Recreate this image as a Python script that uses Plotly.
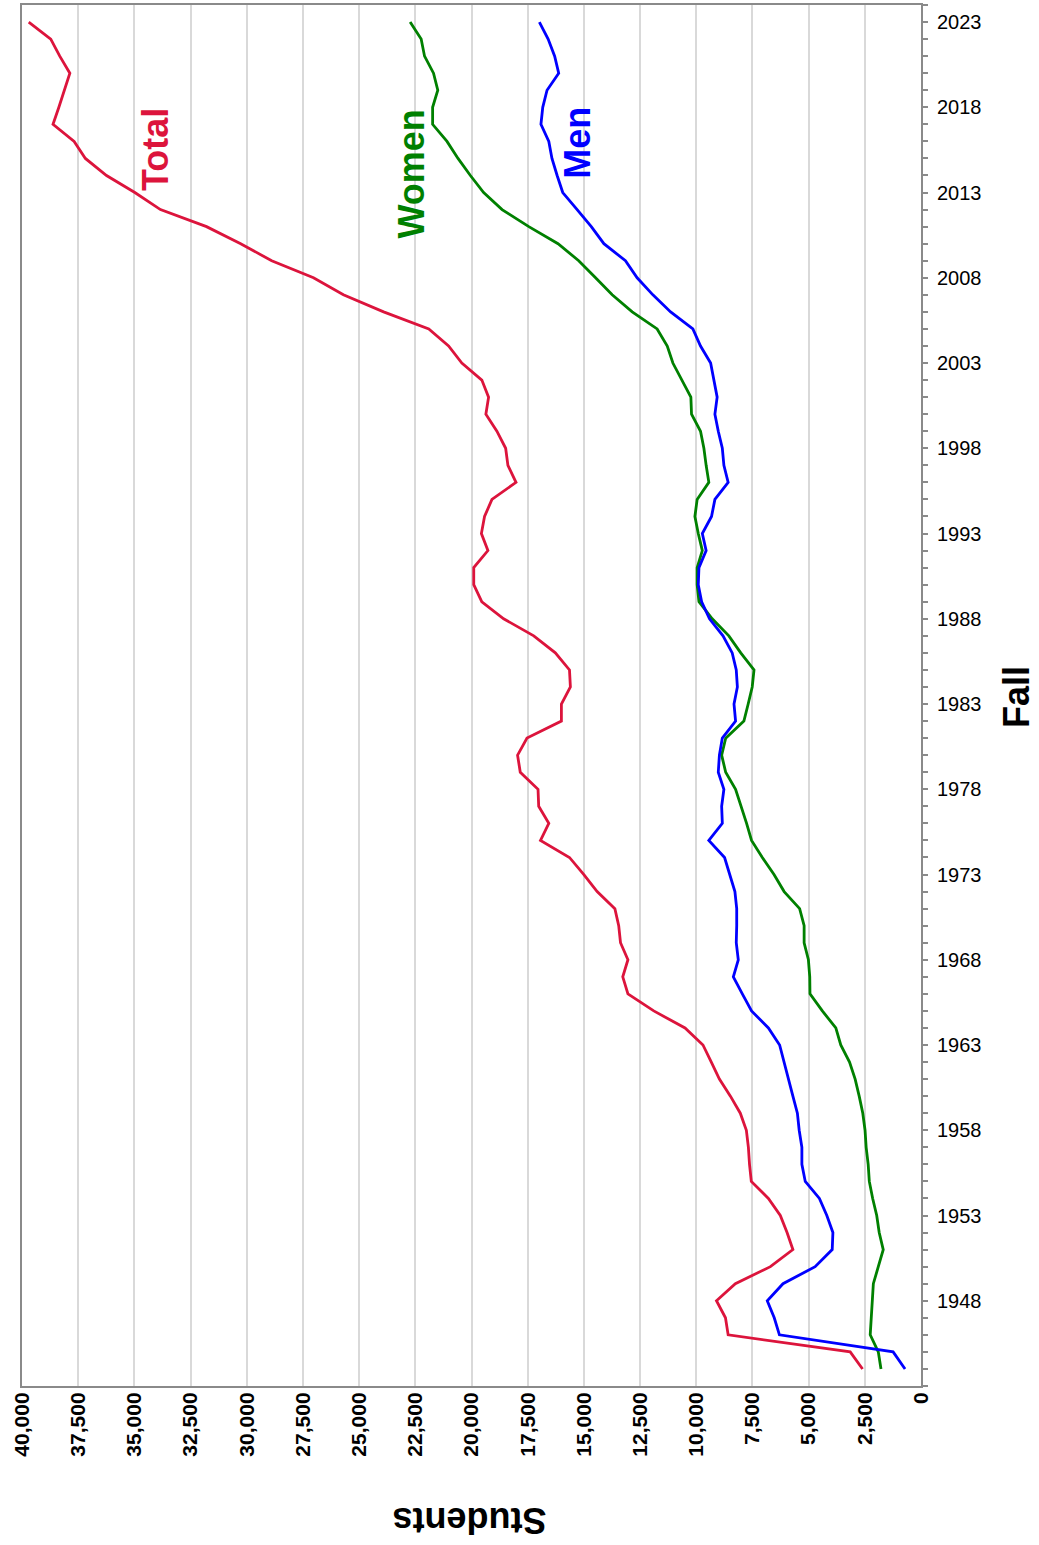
import plotly.graph_objects as go

# Fall enrollment
years = list(range(1944, 2024))

total = [
    2600, 3150, 8580, 8700, 9100, 8260, 6700, 5700, 5960, 6260,
    6790, 7550, 7630, 7680, 7770, 8040, 8480, 8970, 9330, 9700,
    10500, 11890, 13040, 13270, 13040, 13370, 13450, 13620, 14410, 15000,
    15640, 16930, 16560, 17010, 17040, 17830, 17950, 17530, 16000, 16000,
    15600, 15640, 16270, 17230, 18570, 19540, 19900, 19900, 19270, 19560,
    19420, 19090, 18020, 18380, 18480, 18870, 19360, 19240, 19540, 20430,
    21020, 21900, 23910, 25700, 27030, 28890, 30270, 31790, 33840, 34980,
    36240, 37180, 37680, 38620, 38360, 38130, 37870, 38320, 38720, 39700,
]

men = [
    710, 1240, 6300, 6530, 6840, 6140, 4710, 3950, 3920, 4190,
    4520, 5150, 5300, 5300, 5420, 5500, 5700, 5900, 6100, 6290,
    6790, 7540, 7950, 8350, 8130, 8220, 8200, 8200, 8280, 8520,
    8740, 9440, 8840, 8870, 8770, 9020, 8970, 8840, 8250, 8320,
    8170, 8220, 8400, 8810, 9410, 9760, 9910, 9880, 9560, 9730,
    9320, 9170, 8580, 8770, 8840, 9020, 9170, 9070, 9210, 9360,
    9810, 10150, 11140, 11930, 12630, 13150, 14110, 14670, 15300, 15940,
    16190, 16420, 16560, 16910, 16830, 16640, 16120, 16300, 16590, 16980,
]

women = [
    1780, 1900, 2260, 2220, 2190, 2120, 1900, 1680, 1860, 1970,
    2150, 2300, 2350, 2440, 2490, 2590, 2750, 2930, 3180, 3570,
    3790, 4390, 4940, 4950, 5010, 5200, 5200, 5400, 6090, 6540,
    7060, 7540, 7760, 8020, 8250, 8690, 8870, 8690, 7880, 7690,
    7510, 7430, 8020, 8550, 9290, 9880, 9960, 9960, 9730, 9910,
    10060, 9960, 9440, 9560, 9660, 9810, 10210, 10240, 10630, 11040,
    11290, 11740, 12850, 13740, 14480, 15230, 16150, 17450, 18640, 19460,
    20050, 20600, 21090, 21730, 21730, 21500, 21690, 22090, 22240, 22730,
]

year_ticks = list(range(1948, 2024, 5))
student_ticks = list(range(0, 40001, 2500))
student_labels = ["<b>{:,}</b>".format(v) for v in student_ticks]

series = [
    ("Total", total, "#DC143C", 34030, 2015.5),
    ("Women", women, "#008000", 22660, 2014.1),
    ("Men", men, "#0000FF", 15320, 2015.9),
]

FONT = "Arial, Liberation Sans, sans-serif"

fig = go.Figure()

for name, vals, color, lx, ly in series:
    fig.add_trace(go.Scatter(
        x=vals, y=years, mode="lines", name=name,
        line=dict(color=color, width=2.8),
    ))
    fig.add_annotation(
        x=lx, y=ly, xref="x", yref="y", text="<b>%s</b>" % name,
        textangle=-90, showarrow=False, xanchor="center", yanchor="middle",
        font=dict(family=FONT, size=36, color=color),
    )

# axis titles: the whole chart is turned on its side
fig.add_annotation(
    x=0.498, y=-0.097, xref="paper", yref="paper", text="<b>Students</b>",
    textangle=180, showarrow=False, xanchor="center", yanchor="middle",
    font=dict(family=FONT, size=36, color="black"),
)
fig.add_annotation(
    x=1.107, y=0.499, xref="paper", yref="paper", text="<b>Fall</b>",
    textangle=-90, showarrow=False, xanchor="center", yanchor="middle",
    font=dict(family=FONT, size=36, color="black"),
)

fig.update_xaxes(
    range=[40000, 0], tickvals=student_ticks, ticktext=student_labels,
    tickangle=-90, tickfont=dict(family=FONT, size=21, color="black"),
    ticklabelstandoff=-4,
    showgrid=True, gridcolor="#d9d9d9", gridwidth=1.5,
    zeroline=False, showline=True, mirror=True,
    linecolor="#8a8a8a", linewidth=2, ticks="", automargin=False,
)
fig.update_yaxes(
    range=[1943, 2024], side="right", tickvals=year_ticks,
    tickfont=dict(family=FONT, size=20, color="black"),
    showgrid=False, zeroline=False, showline=True, mirror=True,
    linecolor="#8a8a8a", linewidth=2, automargin=False,
    ticks="outside", ticklen=5, tickcolor="#8a8a8a", tickwidth=1.5,
    ticklabelstandoff=5,
    minor=dict(dtick=1, ticks="outside", ticklen=5, tickcolor="#8a8a8a", tickwidth=1.5),
)

fig.update_layout(
    width=1039, height=1545,
    margin=dict(l=22, r=118, t=5, b=159),
    plot_bgcolor="white", paper_bgcolor="white",
    showlegend=False,
)

fig.write_html(
    "out.html",
    config={"displayModeBar": False},
    post_script="document.body.style.margin='0px';",
)
